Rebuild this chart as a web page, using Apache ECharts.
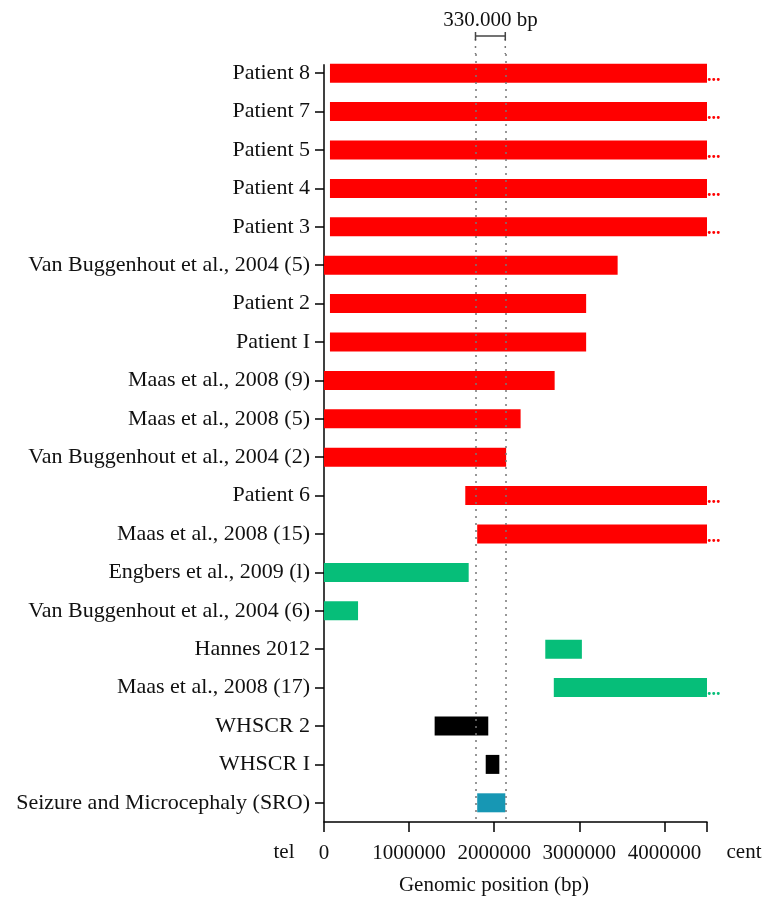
<!DOCTYPE html>
<html>
<head>
<meta charset="utf-8">
<script src="https://cdn.jsdelivr.net/npm/echarts@6/dist/echarts.min.js"></script>
<style>
html,body{margin:0;padding:0;background:#fff;}
#chart{width:780px;height:911px;}
</style>
</head>
<body>
<div id="chart"></div>
<script>
const categories = ['Patient 8','Patient 7','Patient 5','Patient 4','Patient 3',
  'Van Buggenhout et al., 2004 (5)','Patient 2','Patient I','Maas et al., 2008 (9)',
  'Maas et al., 2008 (5)','Van Buggenhout et al., 2004 (2)','Patient 6','Maas et al., 2008 (15)',
  'Engbers et al., 2009 (l)','Van Buggenhout et al., 2004 (6)','Hannes 2012','Maas et al., 2008 (17)',
  'WHSCR 2','WHSCR I','Seizure and Microcephaly (SRO)'];
const starts = [70000,70000,70000,70000,70000,0,70000,70000,0,0,0,1660000,1800000,0,0,2600000,2700000,1300000,1900000,1800000];
const ends = [4500000,4500000,4500000,4500000,4500000,3450000,3080000,3080000,2710000,2310000,2140000,4500000,4500000,1700000,400000,3030000,4500000,1930000,2060000,2130000];
const extendsBeyond = [true,true,true,true,true,false,false,false,false,false,false,true,true,false,false,false,true,false,false,false];
const groups = ['A','A','A','A','A','A','A','A','A','A','A','A','A','B','B','B','B','C','C','D'];
const sroBounds = [1780000, 2130000];
const sroLabel = '330.000 bp';
const xTicks = [0, 1000000, 2000000, 3000000, 4000000];

const groupColors = {A:'#ff0000', B:'#06be79', C:'#000000', D:'#1797b4'};
const FONT = 'Liberation Serif';

const chart = echarts.init(document.getElementById('chart'));
const option = {
  animation:false,
  backgroundColor:'#fff',
  grid:{left:324, right:73, top:54, bottom:89},
  xAxis:{
    type:'value', min:0, max:4500000, interval:1000000,
    axisLine:{show:true, lineStyle:{color:'#000', width:1.5}},
    axisTick:{show:true, length:10, lineStyle:{color:'#000', width:1.5}},
    splitLine:{show:false},
    axisLabel:{fontFamily:FONT, fontSize:21, color:'#111', margin:21,
      formatter:v => xTicks.includes(v) ? String(v) : ''}
  },
  yAxis:{
    type:'category', data:categories, inverse:true,
    axisLine:{show:false},
    axisTick:{show:true, alignWithLabel:true, length:9, lineStyle:{color:'#000', width:1.5}},
    axisLabel:{fontFamily:FONT, fontSize:22, color:'#111', margin:14}
  },
  series:[
    {type:'bar', stack:'s', silent:true, barWidth:19,
     itemStyle:{color:'transparent'},
     data:starts},
    {type:'bar', stack:'s', barWidth:19,
     data:ends.map((e,i)=>({value:e-starts[i], itemStyle:{color:groupColors[groups[i]]},
       label:{show:extendsBeyond[i], position:'right', distance:0, offset:[0,3],
         formatter:'...', color:groupColors[groups[i]], fontFamily:FONT, fontSize:18, fontWeight:'bold'}})),
     markLine:{silent:true, symbol:'none', label:{show:false},
       lineStyle:{type:[2,5], color:'#777', width:1.5},
       data:sroBounds.map(v=>({xAxis:v}))}
    }
  ]
};
chart.setOption(option);

const x0 = chart.convertToPixel({xAxisIndex:0}, sroBounds[0]);
const x1 = chart.convertToPixel({xAxisIndex:0}, sroBounds[1]);
const xa = chart.convertToPixel({xAxisIndex:0}, 0);
const xb = chart.convertToPixel({xAxisIndex:0}, 4500000);
const yFirst = chart.convertToPixel({yAxisIndex:0}, categories[0]);
const yTop = 54, yBracket = 36, yAxisY = 822;
chart.setOption({
  graphic:[
    {type:'line', shape:{x1:xa,y1:yFirst-9,x2:xa,y2:yAxisY}, style:{stroke:'#000', lineWidth:1.5}},
    {type:'line', shape:{x1:x0,y1:yBracket+3,x2:x0,y2:yTop}, style:{stroke:'#777', lineWidth:1.5, lineDash:[2,5]}},
    {type:'line', shape:{x1:x1,y1:yBracket+3,x2:x1,y2:yTop}, style:{stroke:'#777', lineWidth:1.5, lineDash:[2,5]}},
    {type:'line', shape:{x1:x0,y1:yBracket,x2:x1,y2:yBracket}, style:{stroke:'#444', lineWidth:1.5}},
    {type:'line', shape:{x1:x0,y1:yBracket-4,x2:x0,y2:yBracket+4}, style:{stroke:'#444', lineWidth:1.5}},
    {type:'line', shape:{x1:x1,y1:yBracket-4,x2:x1,y2:yBracket+4}, style:{stroke:'#444', lineWidth:1.5}},
    {type:'text', x:(x0+x1)/2, y:20, style:{text:sroLabel, fontFamily:FONT, fontSize:21, fill:'#111', textAlign:'center', textVerticalAlign:'middle'}},
    {type:'text', x:xa-40, y:852, style:{text:'tel', fontFamily:FONT, fontSize:21, fill:'#111', textAlign:'center', textVerticalAlign:'middle'}},
    {type:'text', x:xb+37, y:852, style:{text:'cent', fontFamily:FONT, fontSize:21, fill:'#111', textAlign:'center', textVerticalAlign:'middle'}},
    {type:'text', x:494, y:885, style:{text:'Genomic position (bp)', fontFamily:FONT, fontSize:21, fill:'#111', textAlign:'center', textVerticalAlign:'middle'}}
  ]
});
</script>
</body>
</html>
